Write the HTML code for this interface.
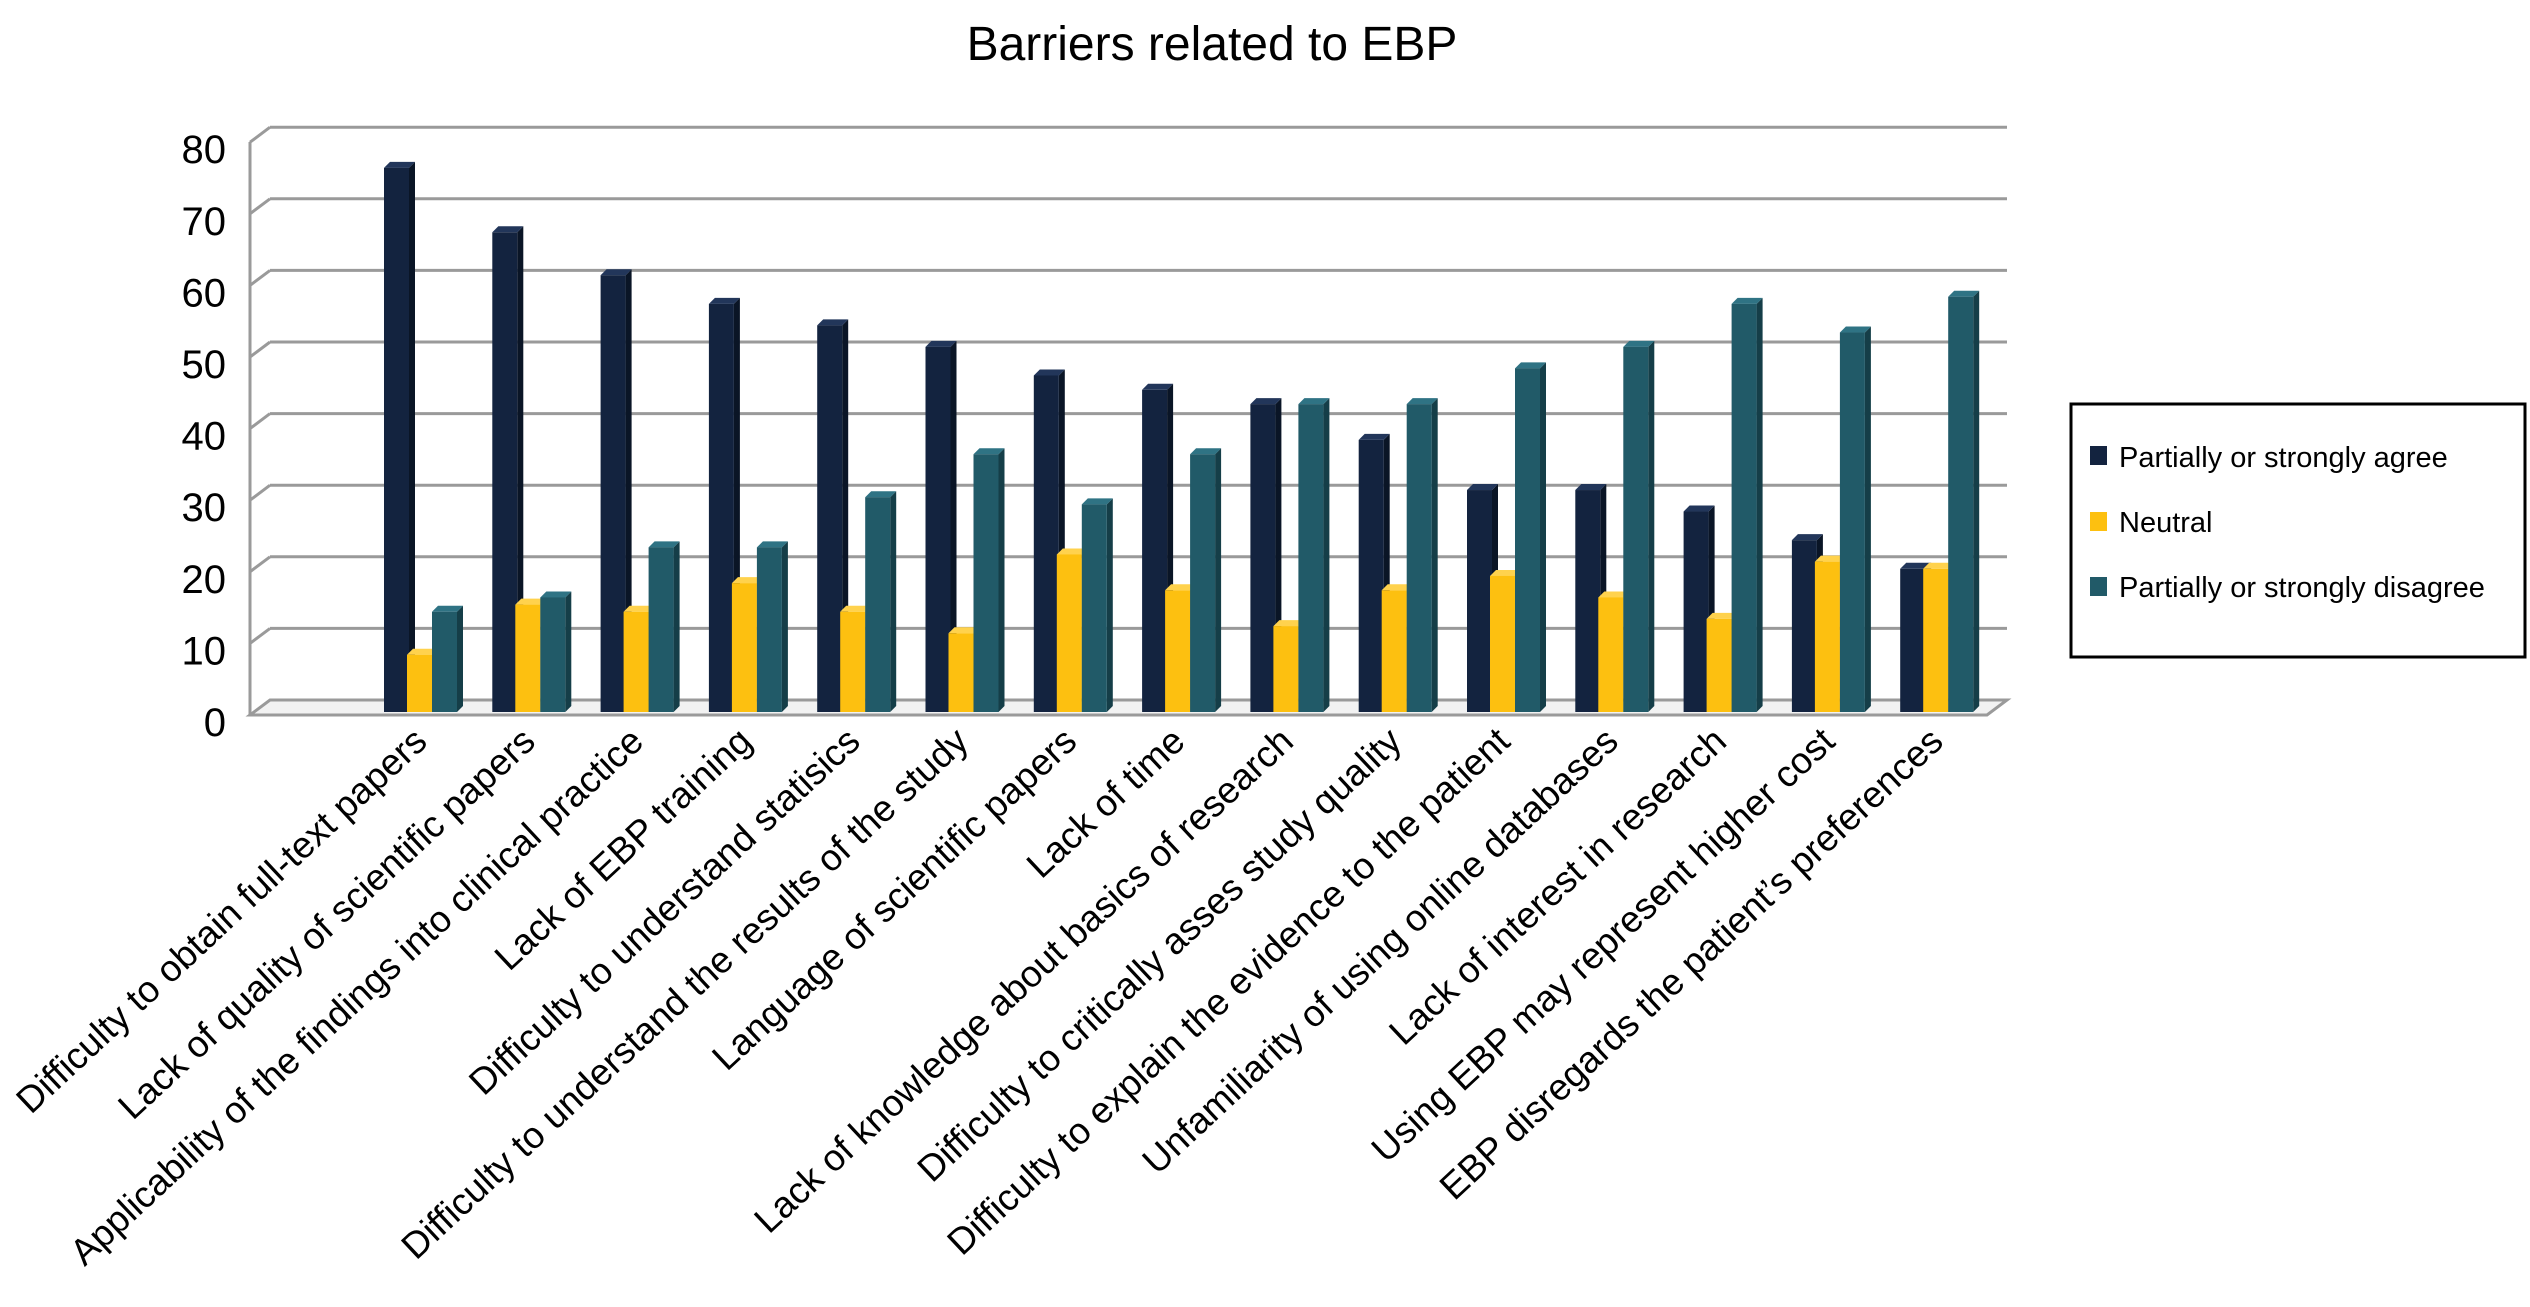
<!DOCTYPE html>
<html><head><meta charset="utf-8"><style>
html,body{margin:0;padding:0;background:#fff;}
svg{display:block;font-family:"Liberation Sans",Arial,sans-serif;}
</style></head><body>
<svg id="chart" width="2530" height="1307" viewBox="0 0 2530 1307" xmlns="http://www.w3.org/2000/svg">
<text x="1212" y="60" font-size="48" text-anchor="middle" fill="#000">Barriers related to EBP</text>
<g id="grid"></g>
<g id="bars"></g>
<g id="xlabels"></g>
<g>
<rect x="2071" y="404" width="454" height="253" fill="#fff" stroke="#000" stroke-width="3"/>
<rect x="2090" y="446" width="17" height="19" fill="#13233f"/>
<text x="2119" y="467" font-size="29">Partially or strongly agree</text>
<rect x="2090" y="512" width="17" height="19" fill="#fdc010"/>
<text x="2119" y="532" font-size="29">Neutral</text>
<rect x="2090" y="577" width="17" height="19" fill="#215a68"/>
<text x="2119" y="597" font-size="29">Partially or strongly disagree</text>
</g>
</svg>
<script>
const categories = ["Difficulty to obtain full-text papers","Lack of quality of scientific papers","Applicability of the findings into clinical practice","Lack of EBP training","Difficulty to understand statisics","Difficulty to understand the results of the study","Language of scientific papers","Lack of time","Lack of knowledge about basics of research","Difficulty to critically asses study quality","Difficulty to explain the evidence to the patient","Unfamiliarity of using online databases","Lack of interest in research","Using EBP may represent higher cost","EBP disregards the patient\u2019s preferences"];
const agree = [76,67,61,57,54,51,47,45,43,38,31,31,28,24,20];
const neutral = [8,15,14,18,14,11,22,17,12,17,19,16,13,21,20];
const disagree = [14,16,23,23,30,36,29,36,43,43,48,51,57,53,58];
const yTicks = [0,10,20,30,40,50,60,70,80];

const NS = "http://www.w3.org/2000/svg";
const backZero = 700, backStep = 71.6/10;
const baseY = 712, barStep = 7.16;
const xStart = 384, groupW = 108.3;
function yBack(v){ return backZero - v*backStep; }
function yBar(v){ return baseY - v*barStep; }
function xGroup(i){ return xStart + i*groupW; }
function mk(tag, attrs, parent){ const e=document.createElementNS(NS,tag); for(const k in attrs) e.setAttribute(k,attrs[k]); parent.appendChild(e); return e; }

const grid = document.getElementById('grid');
yTicks.forEach(t=>{
  const y = yBack(t);
  const g = mk('g',{},grid);
  
  
  if(t>0){
    mk('line',{x1:270,y1:y,x2:2007,y2:y,stroke:'#9a9a9a','stroke-width':3},g);
    mk('line',{x1:250,y1:y+15,x2:270,y2:y,stroke:'#9a9a9a','stroke-width':3},g);
  }
  const lb = mk('text',{x:226,y:y+36,'font-size':40,'text-anchor':'end',fill:'#000'},grid);
  lb.textContent = t;
  
  
});
const floor = mk('polygon',{points:'250,715 270,700 2007,700 1987,715',fill:'#f2f2f2',stroke:'#9a9a9a','stroke-width':3},grid);


const yAxis = mk('line',{x1:250,y1:142,x2:250,y2:716,stroke:'#9a9a9a','stroke-width':3},grid);



const bars = document.getElementById('bars');
const series = [
  {vals:agree, name:'agree', front:'#13233f', side:'#0a1526', top:'#22365a', off:0},
  {vals:neutral, name:'neutral', front:'#fdc010', side:'#d89c00', top:'#ffd24d', off:23},
  {vals:disagree, name:'disagree', front:'#215a68', side:'#153e48', top:'#2f7384', off:48}
];
const bw = 25, d = 6;
categories.forEach((c,i)=>{
  series.forEach(s=>{
    const x = xGroup(i)+s.off, yt = yBar(s.vals[i]);
    const g = mk('g',{},bars);
    
    
    mk('polygon',{points:`${x+bw},${yt} ${x+bw+d},${yt-6} ${x+bw+d},${baseY-6} ${x+bw},${baseY}`,fill:s.side},g);
    mk('polygon',{points:`${x},${yt} ${x+d},${yt-6} ${x+bw+d},${yt-6} ${x+bw},${yt}`,fill:s.top},g);
    mk('rect',{x:x,y:yt,width:bw,height:baseY-yt,fill:s.front},g);
  });
});

const xl = document.getElementById('xlabels');
categories.forEach((c,i)=>{
  const x = xGroup(i)+45, y = 744;
  const t = mk('text',{x:x,y:y,'font-size':37,'text-anchor':'end',transform:`rotate(-43 ${x} ${y})`,fill:'#000'},xl);
  t.textContent = c;
  
  
});
</script>
</body></html>
